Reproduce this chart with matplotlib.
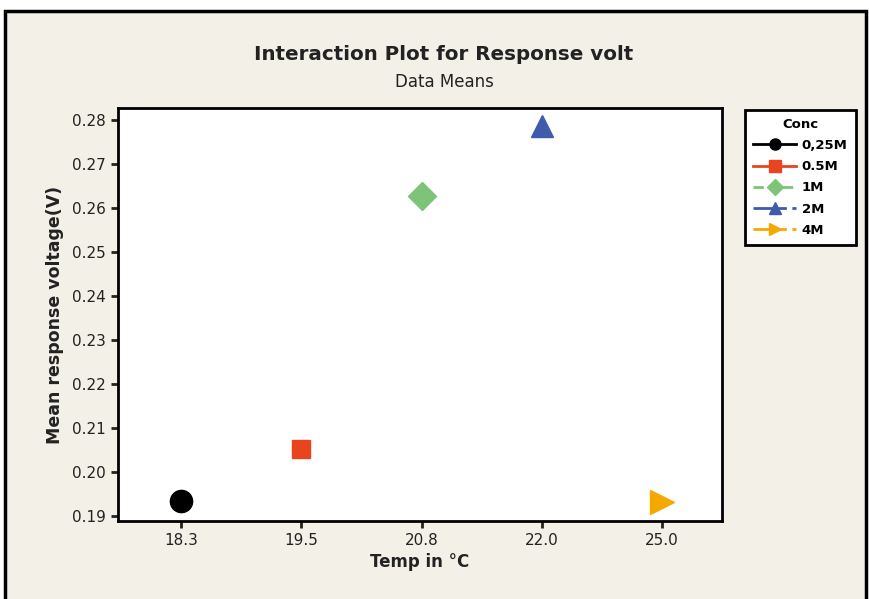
import matplotlib.pyplot as plt
from matplotlib.patches import Rectangle
from matplotlib.lines import Line2D

temps = ['18.3', '19.5', '20.8', '22.0', '25.0']
conc = ['0,25M', '0.5M', '1M', '2M', '4M']
volts = [0.1935, 0.2052, 0.2628, 0.2785, 0.1932]
colors = ['#000000', '#e9441d', '#7dc479', '#3e5cab', '#f5a900']
markers = ['o', 's', 'D', '^', '>']
msizes = [16, 13, 14, 16, 17]
lstyles = ['-', '-', '--', (0, (7, 2, 3, 2)), (0, (7, 2, 3, 2))]

fig = plt.figure(figsize=(8.69, 5.99), dpi=100)
fig.patch.set_facecolor('white')
W, H = 869, 599

bg = Rectangle((5 / W, -0.05), (866 - 5) / W, (599 - 11) / H + 0.05,
               transform=fig.transFigure, facecolor='#f3f0e8', edgecolor='black',
               linewidth=2.5, zorder=-10)
fig.patches.append(bg)

ax = fig.add_axes([118 / W, 1 - 521 / H, (722 - 118) / W, (521 - 108) / H])
ax.set_facecolor('white')

for i in range(len(temps)):
    ax.plot(i, volts[i], marker=markers[i], color=colors[i], markersize=msizes[i],
            linestyle='none')

ax.set_xlim(-0.525, 4.5)
ax.set_ylim(0.1889, 0.2827)
ax.set_xticks(range(len(temps)))
ax.set_xticklabels(temps)
ax.set_yticks([0.19, 0.20, 0.21, 0.22, 0.23, 0.24, 0.25, 0.26, 0.27, 0.28])
ax.set_yticklabels(['0.19', '0.20', '0.21', '0.22', '0.23', '0.24', '0.25',
                    '0.26', '0.27', '0.28'])
ax.tick_params(labelsize=11, width=2, length=5, color='#222222', labelcolor='#222222')
for s in ax.spines.values():
    s.set_linewidth(2)

ax.set_xlabel('Temp in °C', fontsize=12, fontweight='bold', color='#222222', labelpad=4)
ax.set_ylabel('Mean response voltage(V)', fontsize=12.5, fontweight='bold', color='#222222',
              labelpad=6)

fig.text(444 / W, 1 - 55 / H, 'Interaction Plot for Response volt', ha='center',
         va='center', fontsize=14.3, fontweight='bold', color='#222222')
fig.text(444 / W, 1 - 82 / H, 'Data Means', ha='center', va='center', fontsize=12,
         color='#222222')

handles = []
for i in range(len(conc)):
    handles.append(Line2D([0], [0], color=colors[i], marker=markers[i], markersize=8,
                          linestyle=lstyles[i], linewidth=2))
leg = fig.legend(handles, conc, title='Conc', loc='upper left',
                 bbox_to_anchor=(745 / W, 1 - 110 / H), borderaxespad=0,
                 frameon=True, fancybox=False, framealpha=1,
                 fontsize=9.5, title_fontsize=9.5, handlelength=3.3, labelspacing=0.62,
                 borderpad=0.6, handletextpad=0.4)
leg.get_frame().set_edgecolor('black')
leg.get_frame().set_facecolor('white')
leg.get_frame().set_linewidth(2)
leg.get_title().set_fontweight('bold')
for t in leg.get_texts():
    t.set_fontweight('bold')

fig.savefig('out.png', dpi=100, facecolor=fig.get_facecolor())
